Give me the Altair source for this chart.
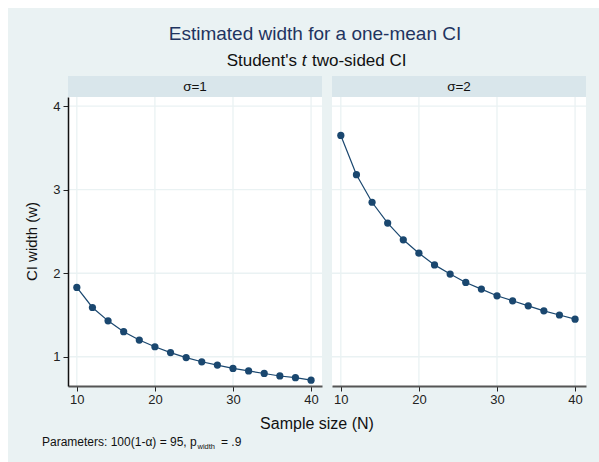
import altair as alt
import pandas as pd

# ---- data ----
sample_size = [10, 12, 14, 16, 18, 20, 22, 24, 26, 28, 30, 32, 34, 36, 38, 40]
width_sigma1 = [1.83, 1.59, 1.43, 1.30, 1.20, 1.12, 1.05, 0.99, 0.94, 0.90, 0.86, 0.83, 0.80, 0.77, 0.75, 0.72]
width_sigma2 = [3.65, 3.18, 2.85, 2.60, 2.40, 2.24, 2.10, 1.99, 1.89, 1.81, 1.73, 1.67, 1.61, 1.55, 1.50, 1.45]
panel_labels = ["σ=1", "σ=2"]
x_ticks = [10, 20, 30, 40]
y_ticks = [1, 2, 3, 4]

title_text = "Estimated width for a one-mean CI"
subtitle_parts = ["Student's", "t", "two-sided CI"]
x_title = "Sample size (N)"
y_title = "CI width (w)"
note_parts = ["Parameters: 100(1-α) = 95, p", "width", "= .9"]

# ---- style ----
FONT = "Liberation Sans"
NAVY = "#1A476F"
BG = "#EAF2F3"
STRIP = "#D9E6EB"
W, H = 254, 289
XDOM = [8.87, 41.4]
YDOM = [0.65, 4.11]

df = pd.DataFrame({
    "N": sample_size * 2,
    "w": width_sigma1 + width_sigma2,
    "panel": [panel_labels[0]] * len(sample_size) + [panel_labels[1]] * len(sample_size),
})
one = pd.DataFrame({"d": [0]})
xg = pd.DataFrame({"x": x_ticks})
yg = pd.DataFrame({"y": y_ticks})

xscale = alt.Scale(domain=XDOM, nice=False, zero=False)
yscale = alt.Scale(domain=YDOM, nice=False, zero=False)

xaxis = alt.Axis(values=x_ticks, title=None, grid=False, domainColor="#555555", domainWidth=2,
                 tickColor="#222222", tickSize=5, labelFontSize=13, labelFont=FONT,
                 labelColor="#222222", labelPadding=2, zindex=1)
yaxis = alt.Axis(values=y_ticks, title=None, grid=False, domainColor="#111111", domainWidth=1.5,
                 tickColor="#222222", tickSize=5, labelFontSize=13, labelFont=FONT,
                 labelColor="#222222", labelPadding=3, zindex=1)


def text(txt, x, y, size, color="#111111", align="left", style="normal", angle=0, baseline="alphabetic"):
    kw = dict(text=txt, font=FONT, fontSize=size, color=color, align=align,
              baseline=baseline, fontStyle=style)
    if angle:
        kw["angle"] = angle
    return alt.Chart(one).mark_text(**kw).encode(x=alt.value(x), y=alt.value(y))


def panel(label, first):
    d = df[df["panel"] == label]
    layers = []
    if first:
        # full canvas bounds and background region (white margin at top/left)
        layers.append(alt.Chart(one).mark_rect(opacity=0).encode(
            x=alt.value(-68), x2=alt.value(531), y=alt.value(-97), y2=alt.value(365)))
        layers.append(alt.Chart(one).mark_rect(color=BG).encode(
            x=alt.value(-60), x2=alt.value(531), y=alt.value(-89), y2=alt.value(365)))
    layers.append(alt.Chart(one).mark_rect(color="white").encode(
        x=alt.value(0), x2=alt.value(W), y=alt.value(0), y2=alt.value(H)))
    layers.append(alt.Chart(one).mark_rect(color=STRIP).encode(
        x=alt.value(0), x2=alt.value(W), y=alt.value(-21), y2=alt.value(0)))
    layers.append(text(label, W / 2, -10.5, 13.5, align="center", baseline="middle"))
    layers.append(alt.Chart(xg).mark_rule(color=BG, strokeWidth=1.3).encode(
        x=alt.X("x:Q", scale=xscale, axis=xaxis), y=alt.value(0), y2=alt.value(H)))
    layers.append(alt.Chart(yg).mark_rule(color=BG, strokeWidth=1.3).encode(
        y=alt.Y("y:Q", scale=yscale, axis=yaxis if first else None), x=alt.value(0), x2=alt.value(W)))
    base = alt.Chart(d).encode(
        x=alt.X("N:Q", scale=xscale, axis=xaxis),
        y=alt.Y("w:Q", scale=yscale, axis=yaxis if first else None),
    )
    layers.append(base.mark_line(color=NAVY, strokeWidth=1.2))
    layers.append(base.mark_circle(color=NAVY, size=52, opacity=1))
    if first:
        layers.append(text(title_text, 247, -57, 19, color="#1F3460", align="center"))
        layers.append(text(subtitle_parts[0], 229, -31, 17, align="right"))
        layers.append(text(subtitle_parts[1], 236, -31, 17, align="center", style="italic"))
        layers.append(text(subtitle_parts[2], 244, -31, 17, align="left"))
        layers.append(text(y_title, -36, H / 2, 15, align="center", angle=270, baseline="middle"))
        layers.append(text(x_title, 249, 332, 16, align="center"))
        layers.append(text(note_parts[0], -26, 349, 12, align="left"))
        layers.append(text(note_parts[1], 129.5, 352, 7.5, align="left"))
        layers.append(text(note_parts[2], 153, 349, 12, align="left"))
    return alt.layer(*layers).properties(width=W, height=H)


chart = alt.hconcat(panel(panel_labels[0], True), panel(panel_labels[1], False),
                    spacing=10, bounds="flush").properties(
    padding=0, background="white"
).configure_view(stroke=None, fill="white")

chart.save("out.html", embed_options={"renderer": "svg", "actions": False})
